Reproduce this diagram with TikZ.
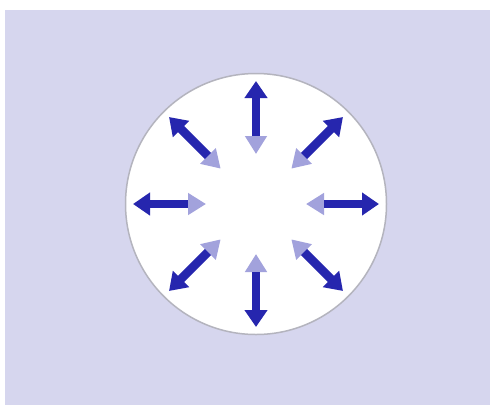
\documentclass[tikz,border=0pt]{standalone}
\usetikzlibrary{arrows.meta,calc}
\definecolor{backdrop}{HTML}{D6D6EE}
\definecolor{rimgrey}{HTML}{B4B4BE}
\definecolor{darkblue}{HTML}{2626AE}
\definecolor{paleblue}{HTML}{A2A2DC}

\begin{document}
\begin{tikzpicture}[
    x=1pt,y=-1pt,
    disc/.style={circle,draw=rimgrey,fill=white,line width=1.5pt,minimum size=261pt,inner sep=0pt},
    outarrow/.style={-{Triangle[length=17pt,width=22pt]},line width=8.5pt,draw=darkblue},
    inarrow/.style={-{Triangle[length=18pt,width=21pt]},line width=8.5pt,draw=paleblue}
]
\useasboundingbox (0,0) rectangle (490,405);
\fill[white] (0,0) rectangle (490,405);
\fill[backdrop] (5,10) rectangle (490,405);

\node[disc] (cell) at (256,204) {};

% eight pairs: pale head pointing in, dark arrow pointing out
\foreach \a in {0,45,...,315}{
  \coordinate (in\a) at ($(cell.center)+(\a:50)$);
  \coordinate (mid\a) at ($(cell.center)+(\a:68)$);
  \coordinate (out\a) at ($(cell.center)+(\a:123)$);
  \draw[inarrow] (mid\a) -- (in\a);
  \draw[outarrow] (mid\a) -- (out\a);
}
\end{tikzpicture}
\end{document}
